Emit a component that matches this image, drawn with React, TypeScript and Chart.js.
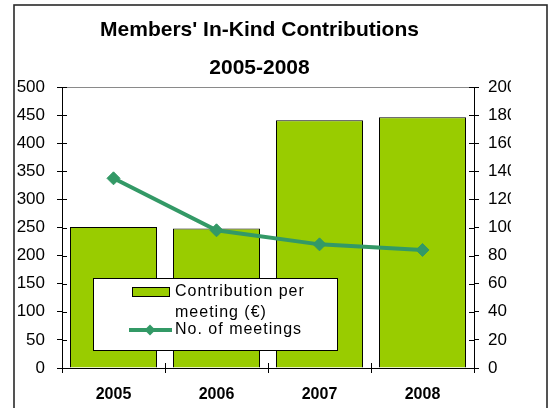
import React, { useEffect, useRef } from 'react';
import { Chart, registerables } from 'chart.js';

Chart.register(...registerables);

const categories: string[] = ['2005', '2006', '2007', '2008'];
const contributionPerMeeting: number[] = [251, 248, 441, 446];
const numberOfMeetings: number[] = [135, 98, 88, 84];
const titleLines: string[] = ["Members' In-Kind Contributions", '2005-2008'];
const seriesLabels: string[] = ['Contribution per meeting (€)', 'No. of meetings'];
const leftAxis = { min: 0, max: 500, step: 50 };
const rightAxis = { min: 0, max: 200, step: 20 };

const BAR_COLOR = '#99CC00';
const LINE_COLOR = '#339966';
const FONT = "Arial, 'Liberation Sans', sans-serif";

const framePlugin = {
  id: 'frame',
  beforeDraw(chart: any) {
    const { ctx, width, height } = chart;
    ctx.save();
    ctx.fillStyle = '#ffffff';
    ctx.fillRect(0, 0, width, height);
    ctx.strokeStyle = '#2a2a2a';
    ctx.lineWidth = 1.6;
    ctx.strokeRect(14, 5, 533, 420);
    ctx.restore();
  },
};

const crossTicksPlugin = {
  id: 'crossTicks',
  afterDraw(chart: any) {
    const { ctx, chartArea: a } = chart;
    const yl = chart.scales.y;
    const yr = chart.scales.y1;
    const xs = chart.scales.x;
    ctx.save();
    ctx.strokeStyle = '#8a8a8a';
    ctx.lineWidth = 1;
    ctx.beginPath();
    ctx.moveTo(a.left, Math.round(a.top) + 0.5);
    ctx.lineTo(a.right, Math.round(a.top) + 0.5);
    ctx.stroke();
    ctx.strokeStyle = '#000';
    ctx.beginPath();
    yl.ticks.forEach((_t: any, i: number) => {
      const py = Math.round(yl.getPixelForTick(i)) + 0.5;
      ctx.moveTo(a.left, py);
      ctx.lineTo(a.left + 5, py);
    });
    yr.ticks.forEach((_t: any, i: number) => {
      const py = Math.round(yr.getPixelForTick(i)) + 0.5;
      ctx.moveTo(a.right - 5, py);
      ctx.lineTo(a.right, py);
    });
    for (let i = 1; i < categories.length; i++) {
      const px = Math.round(xs.getPixelForValue(i - 0.5)) + 0.5;
      ctx.moveTo(px, a.bottom - 5);
      ctx.lineTo(px, a.bottom);
    }
    ctx.stroke();
    ctx.restore();
  },
};

function wrapText(ctx: CanvasRenderingContext2D, text: string, maxWidth: number): string[] {
  const words = text.split(' ');
  const lines: string[] = [];
  let cur = '';
  for (const w of words) {
    const test = cur ? cur + ' ' + w : w;
    if (cur && ctx.measureText(test).width > maxWidth) {
      lines.push(cur);
      cur = w;
    } else {
      cur = test;
    }
  }
  if (cur) lines.push(cur);
  return lines;
}

const insideLegendPlugin = {
  id: 'insideLegend',
  afterDatasetsDraw(chart: any) {
    const { ctx, chartArea: a } = chart;
    const ds = chart.data.datasets as any[];
    const barDs = ds.find((d) => d.type === 'bar');
    const lineDs = ds.find((d) => d.type === 'line');
    const x0 = a.left + 31;
    const w = 245;
    const h = 73;
    const y0 = a.bottom - 17 - h;
    ctx.save();
    ctx.fillStyle = '#ffffff';
    ctx.fillRect(x0, y0, w, h);
    ctx.strokeStyle = '#000';
    ctx.lineWidth = 1;
    ctx.strokeRect(x0 + 0.5, y0 + 0.5, w - 1, h - 1);

    ctx.fillStyle = BAR_COLOR;
    ctx.fillRect(x0 + 39, y0 + 9, 38, 10);
    ctx.strokeRect(x0 + 39.5, y0 + 9.5, 37, 9);

    ctx.font = `16px ${FONT}`;
    (ctx as any).letterSpacing = '1px';
    ctx.fillStyle = '#000';
    ctx.textAlign = 'left';
    ctx.textBaseline = 'middle';
    const lines1 = wrapText(ctx, barDs.label, 150);
    lines1.forEach((ln, i) => ctx.fillText(ln, x0 + 82, y0 + 14 + i * 21));

    const ly = y0 + 52;
    ctx.strokeStyle = LINE_COLOR;
    ctx.lineWidth = 4;
    ctx.beginPath();
    ctx.moveTo(x0 + 36, ly);
    ctx.lineTo(x0 + 79, ly);
    ctx.stroke();
    ctx.fillStyle = LINE_COLOR;
    const cx = x0 + 57;
    const r = 5.5;
    ctx.beginPath();
    ctx.moveTo(cx, ly - r);
    ctx.lineTo(cx + r, ly);
    ctx.lineTo(cx, ly + r);
    ctx.lineTo(cx - r, ly);
    ctx.closePath();
    ctx.fill();
    ctx.fillStyle = '#000';
    ctx.fillText(lineDs.label, x0 + 82, ly);
    ctx.restore();
  },
};

export default function App() {
  const canvasRef = useRef<HTMLCanvasElement | null>(null);

  useEffect(() => {
    if (!canvasRef.current) return;
    const chart = new Chart(canvasRef.current, {
      type: 'bar',
      data: {
        labels: categories,
        datasets: [
          {
            type: 'line' as const,
            label: seriesLabels[1],
            data: numberOfMeetings,
            yAxisID: 'y1',
            borderColor: LINE_COLOR,
            backgroundColor: LINE_COLOR,
            borderWidth: 4,
            pointStyle: 'rectRot',
            pointRadius: 6.5,
            pointBackgroundColor: LINE_COLOR,
            pointBorderColor: LINE_COLOR,
            pointBorderWidth: 1,
            tension: 0,
            order: 0,
          },
          {
            type: 'bar' as const,
            label: seriesLabels[0],
            data: contributionPerMeeting,
            yAxisID: 'y',
            backgroundColor: BAR_COLOR,
            borderColor: '#000',
            borderWidth: 1,
            categoryPercentage: 1,
            barPercentage: 0.845,
            order: 1,
          },
        ] as any,
      },
      options: {
        responsive: false,
        animation: false,
        layout: { padding: { left: 8, right: 39, top: 0, bottom: 0 } },
        plugins: {
          legend: { display: false },
          tooltip: { enabled: false },
          title: {
            display: true,
            text: titleLines,
            color: '#000',
            font: { family: FONT, size: 21, weight: 'bold', lineHeight: 38 / 21 },
            padding: { top: 11, bottom: 0 },
          },
        },
        scales: {
          x: {
            grid: { display: true, drawOnChartArea: false, drawTicks: true, tickLength: 5, color: '#000', offset: true },
            border: { display: true, color: '#000', width: 1 },
            ticks: { color: '#000', font: { family: FONT, size: 16, weight: 'bold' }, padding: 12 },
            afterFit: (s: any) => { s.height = 40; },
          },
          y: {
            position: 'left',
            min: leftAxis.min,
            max: leftAxis.max,
            grid: { display: true, drawOnChartArea: false, drawTicks: true, tickLength: 5, color: '#000' },
            border: { display: true, color: '#000', width: 1 },
            ticks: { stepSize: leftAxis.step, color: '#000', font: { family: FONT, size: 17 }, padding: 12 },
            afterFit: (s: any) => { s.width = 54; },
          },
          y1: {
            position: 'right',
            min: rightAxis.min,
            max: rightAxis.max,
            grid: { display: true, drawOnChartArea: false, drawTicks: true, tickLength: 5, color: '#000' },
            border: { display: true, color: '#000', width: 1 },
            ticks: { stepSize: rightAxis.step, color: '#000', font: { family: FONT, size: 17 }, padding: 9 },
            afterFit: (s: any) => { s.width = 37; },
          },
        },
      } as any,
      plugins: [framePlugin, insideLegendPlugin, crossTicksPlugin],
    });
    return () => chart.destroy();
  }, []);

  return (
    <div style={{ position: 'absolute', left: 0, top: 0, width: 550, height: 408, overflow: 'hidden' }}>
      <canvas ref={canvasRef} width={550} height={408} style={{ display: 'block' }} />
    </div>
  );
}
